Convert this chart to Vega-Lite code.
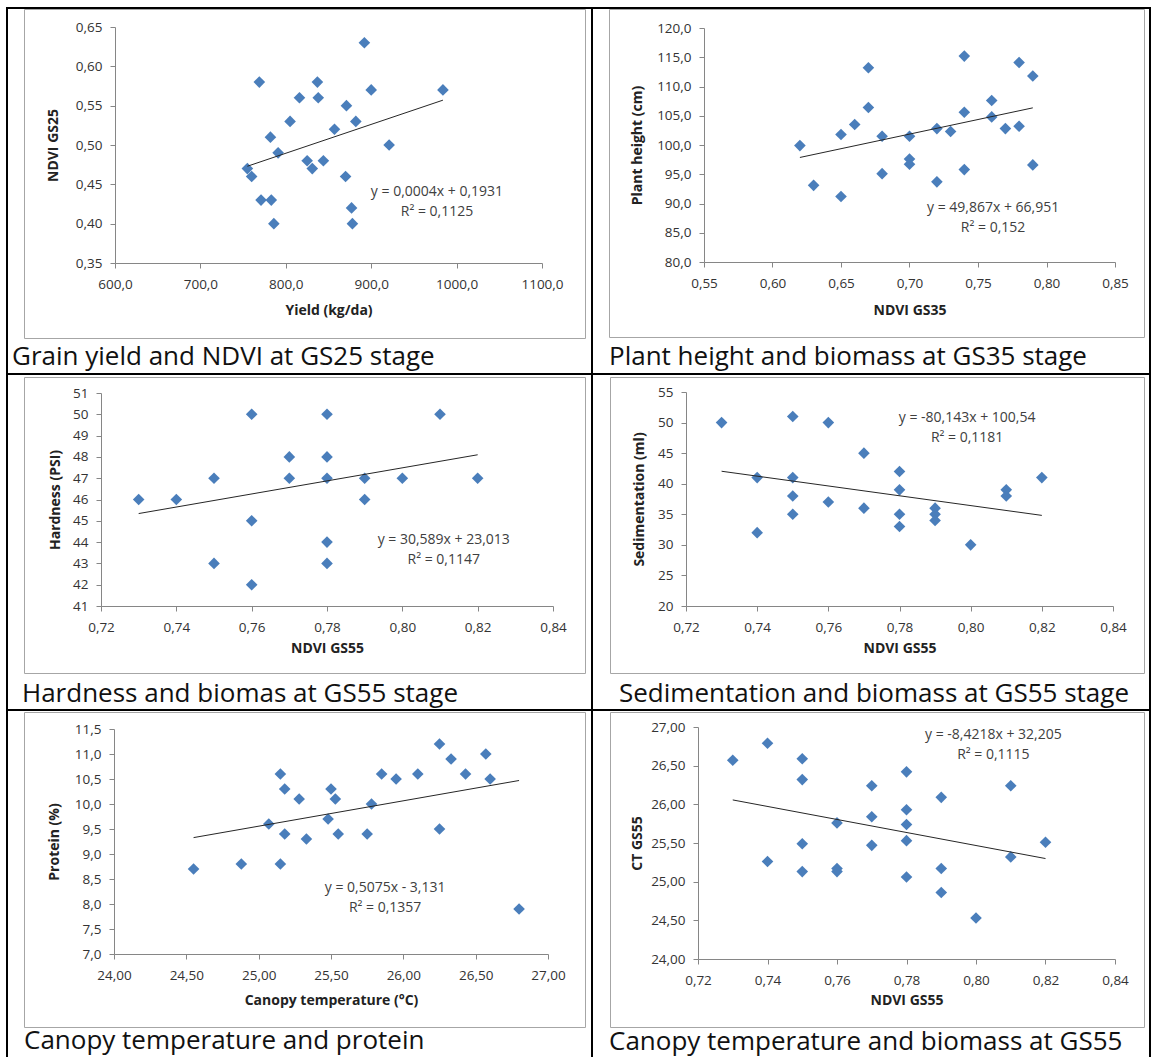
{
"$schema":"https://vega.github.io/schema/vega-lite/v6.json",
"padding":{"left":6,"top":7,"right":0,"bottom":0},
"background":"white",
"datasets":{
"frame":[{"element":"chart area border"}],
"p1":[{"yield":755,"ndvi_gs25":0.47},{"yield":760,"ndvi_gs25":0.46},{"yield":771,"ndvi_gs25":0.43},{"yield":783,"ndvi_gs25":0.43},{"yield":786,"ndvi_gs25":0.40},{"yield":769,"ndvi_gs25":0.58},{"yield":782,"ndvi_gs25":0.51},{"yield":791,"ndvi_gs25":0.49},{"yield":805,"ndvi_gs25":0.53},{"yield":816,"ndvi_gs25":0.56},{"yield":825,"ndvi_gs25":0.48},{"yield":831,"ndvi_gs25":0.47},{"yield":837,"ndvi_gs25":0.58},{"yield":838,"ndvi_gs25":0.56},{"yield":844,"ndvi_gs25":0.48},{"yield":857,"ndvi_gs25":0.52},{"yield":870,"ndvi_gs25":0.46},{"yield":871,"ndvi_gs25":0.55},{"yield":877,"ndvi_gs25":0.42},{"yield":878,"ndvi_gs25":0.40},{"yield":882,"ndvi_gs25":0.53},{"yield":892,"ndvi_gs25":0.63},{"yield":900,"ndvi_gs25":0.57},{"yield":921,"ndvi_gs25":0.50},{"yield":984,"ndvi_gs25":0.57}],
"t1":[{"yield":755,"ndvi_gs25":0.473},{"yield":984,"ndvi_gs25":0.557}],
"e1":[{"equation":"y = 0,0004x + 0,1931","r2":"R² = 0,1125"}],
"p2":[{"ndvi_gs35":0.62,"plant_height":99.9},{"ndvi_gs35":0.63,"plant_height":93.1},{"ndvi_gs35":0.65,"plant_height":101.8},{"ndvi_gs35":0.65,"plant_height":91.2},{"ndvi_gs35":0.66,"plant_height":103.5},{"ndvi_gs35":0.67,"plant_height":113.2},{"ndvi_gs35":0.67,"plant_height":106.4},{"ndvi_gs35":0.68,"plant_height":101.5},{"ndvi_gs35":0.68,"plant_height":95.1},{"ndvi_gs35":0.70,"plant_height":101.5},{"ndvi_gs35":0.70,"plant_height":97.6},{"ndvi_gs35":0.70,"plant_height":96.7},{"ndvi_gs35":0.72,"plant_height":102.8},{"ndvi_gs35":0.72,"plant_height":93.7},{"ndvi_gs35":0.73,"plant_height":102.3},{"ndvi_gs35":0.74,"plant_height":115.2},{"ndvi_gs35":0.74,"plant_height":105.6},{"ndvi_gs35":0.74,"plant_height":95.8},{"ndvi_gs35":0.76,"plant_height":107.6},{"ndvi_gs35":0.76,"plant_height":104.8},{"ndvi_gs35":0.77,"plant_height":102.8},{"ndvi_gs35":0.78,"plant_height":114.1},{"ndvi_gs35":0.78,"plant_height":103.2},{"ndvi_gs35":0.79,"plant_height":111.8},{"ndvi_gs35":0.79,"plant_height":96.6}],
"t2":[{"ndvi_gs35":0.62,"plant_height":97.87},{"ndvi_gs35":0.79,"plant_height":106.35}],
"e2":[{"equation":"y = 49,867x + 66,951","r2":"R² = 0,152"}],
"p3":[{"ndvi_gs55":0.73,"hardness":46},{"ndvi_gs55":0.74,"hardness":46},{"ndvi_gs55":0.75,"hardness":47},{"ndvi_gs55":0.75,"hardness":43},{"ndvi_gs55":0.76,"hardness":50},{"ndvi_gs55":0.76,"hardness":45},{"ndvi_gs55":0.76,"hardness":42},{"ndvi_gs55":0.77,"hardness":48},{"ndvi_gs55":0.77,"hardness":47},{"ndvi_gs55":0.78,"hardness":50},{"ndvi_gs55":0.78,"hardness":48},{"ndvi_gs55":0.78,"hardness":47},{"ndvi_gs55":0.78,"hardness":44},{"ndvi_gs55":0.78,"hardness":43},{"ndvi_gs55":0.79,"hardness":47},{"ndvi_gs55":0.79,"hardness":46},{"ndvi_gs55":0.80,"hardness":47},{"ndvi_gs55":0.81,"hardness":50},{"ndvi_gs55":0.82,"hardness":47}],
"t3":[{"ndvi_gs55":0.73,"hardness":45.34},{"ndvi_gs55":0.82,"hardness":48.10}],
"e3":[{"equation":"y = 30,589x + 23,013","r2":"R² = 0,1147"}],
"p4":[{"ndvi_gs55":0.73,"sedimentation":50},{"ndvi_gs55":0.74,"sedimentation":41},{"ndvi_gs55":0.74,"sedimentation":32},{"ndvi_gs55":0.75,"sedimentation":51},{"ndvi_gs55":0.75,"sedimentation":41},{"ndvi_gs55":0.75,"sedimentation":38},{"ndvi_gs55":0.75,"sedimentation":35},{"ndvi_gs55":0.76,"sedimentation":50},{"ndvi_gs55":0.76,"sedimentation":37},{"ndvi_gs55":0.77,"sedimentation":45},{"ndvi_gs55":0.77,"sedimentation":36},{"ndvi_gs55":0.78,"sedimentation":42},{"ndvi_gs55":0.78,"sedimentation":39},{"ndvi_gs55":0.78,"sedimentation":35},{"ndvi_gs55":0.78,"sedimentation":33},{"ndvi_gs55":0.79,"sedimentation":36},{"ndvi_gs55":0.79,"sedimentation":35},{"ndvi_gs55":0.79,"sedimentation":34},{"ndvi_gs55":0.80,"sedimentation":30},{"ndvi_gs55":0.81,"sedimentation":39},{"ndvi_gs55":0.81,"sedimentation":38},{"ndvi_gs55":0.82,"sedimentation":41}],
"t4":[{"ndvi_gs55":0.73,"sedimentation":42.04},{"ndvi_gs55":0.82,"sedimentation":34.82}],
"e4":[{"equation":"y = -80,143x + 100,54","r2":"R² = 0,1181"}],
"p5":[{"canopy_temperature":24.55,"protein":8.7},{"canopy_temperature":24.88,"protein":8.8},{"canopy_temperature":25.07,"protein":9.6},{"canopy_temperature":25.15,"protein":10.6},{"canopy_temperature":25.15,"protein":8.8},{"canopy_temperature":25.18,"protein":10.3},{"canopy_temperature":25.18,"protein":9.4},{"canopy_temperature":25.28,"protein":10.1},{"canopy_temperature":25.33,"protein":9.3},{"canopy_temperature":25.48,"protein":9.7},{"canopy_temperature":25.50,"protein":10.3},{"canopy_temperature":25.53,"protein":10.1},{"canopy_temperature":25.55,"protein":9.4},{"canopy_temperature":25.75,"protein":9.4},{"canopy_temperature":25.78,"protein":10.0},{"canopy_temperature":25.85,"protein":10.6},{"canopy_temperature":25.95,"protein":10.5},{"canopy_temperature":26.10,"protein":10.6},{"canopy_temperature":26.25,"protein":11.2},{"canopy_temperature":26.25,"protein":9.5},{"canopy_temperature":26.33,"protein":10.9},{"canopy_temperature":26.43,"protein":10.6},{"canopy_temperature":26.57,"protein":11.0},{"canopy_temperature":26.60,"protein":10.5},{"canopy_temperature":26.80,"protein":7.9}],
"t5":[{"canopy_temperature":24.55,"protein":9.328},{"canopy_temperature":26.80,"protein":10.470}],
"e5":[{"equation":"y = 0,5075x - 3,131","r2":"R² = 0,1357"}],
"p6":[{"ndvi_gs55":0.73,"ct_gs55":26.57},{"ndvi_gs55":0.74,"ct_gs55":26.79},{"ndvi_gs55":0.74,"ct_gs55":25.26},{"ndvi_gs55":0.75,"ct_gs55":26.59},{"ndvi_gs55":0.75,"ct_gs55":26.32},{"ndvi_gs55":0.75,"ct_gs55":25.49},{"ndvi_gs55":0.75,"ct_gs55":25.13},{"ndvi_gs55":0.76,"ct_gs55":25.76},{"ndvi_gs55":0.76,"ct_gs55":25.17},{"ndvi_gs55":0.76,"ct_gs55":25.13},{"ndvi_gs55":0.77,"ct_gs55":26.24},{"ndvi_gs55":0.77,"ct_gs55":25.84},{"ndvi_gs55":0.77,"ct_gs55":25.47},{"ndvi_gs55":0.78,"ct_gs55":26.42},{"ndvi_gs55":0.78,"ct_gs55":25.93},{"ndvi_gs55":0.78,"ct_gs55":25.74},{"ndvi_gs55":0.78,"ct_gs55":25.53},{"ndvi_gs55":0.78,"ct_gs55":25.06},{"ndvi_gs55":0.79,"ct_gs55":26.09},{"ndvi_gs55":0.79,"ct_gs55":25.17},{"ndvi_gs55":0.79,"ct_gs55":24.86},{"ndvi_gs55":0.80,"ct_gs55":24.53},{"ndvi_gs55":0.81,"ct_gs55":26.24},{"ndvi_gs55":0.81,"ct_gs55":25.32},{"ndvi_gs55":0.82,"ct_gs55":25.51}],
"t6":[{"ndvi_gs55":0.73,"ct_gs55":26.057},{"ndvi_gs55":0.82,"ct_gs55":25.299}],
"e6":[{"equation":"y = -8,4218x + 32,205","r2":"R² = 0,1115"}]
},
"columns":2,
"spacing":0,
"bounds":"flush",
"align":"each",
"concat":[
{"width":585,"height":366,
"title":{"text":"Grain yield and NDVI at GS25 stage","orient":"bottom","anchor":"start","frame":"group","offset":-17,"dx":5,"baseline":"middle"},
"layer":[
{"layer":[
{"data":{"name":"p1"},"mark":{"type":"point","shape":"diamond","filled":true,"size":135,"color":"#4a7ebb","opacity":1},
"encoding":{"x":{"field":"yield","type":"quantitative","scale":{"domain":[600,1100],"range":[108,535],"nice":false,"zero":false},"axis":{"orient":"bottom","offset":-111,"values":[600,700,800,900,1000,1100],"tickCount":30,"format":".1f","labelOverlap":false,"title":"Yield (kg/da)","titleY":47,"titleBaseline":"middle"}},
"y":{"field":"ndvi_gs25","type":"quantitative","scale":{"domain":[0.35,0.65],"range":[255,19],"nice":false,"zero":false},"axis":{"orient":"left","offset":-108,"values":[0.35,0.4,0.45,0.5,0.55,0.6,0.65],"tickCount":30,"format":".2f","labelOverlap":false,"title":"NDVI GS25","titleX":-62,"titleBaseline":"middle"}}}},
{"data":{"name":"t1"},"mark":{"type":"line","color":"#262626","strokeWidth":1},"encoding":{"x":{"field":"yield","type":"quantitative"},"y":{"field":"ndvi_gs25","type":"quantitative"}}},
{"data":{"name":"e1"},"mark":{"type":"text","fontSize":14,"color":"#404040","align":"center","baseline":"middle"},"encoding":{"x":{"datum":977,"type":"quantitative"},"y":{"datum":0.44,"type":"quantitative"},"text":{"field":"equation"}}},
{"data":{"name":"e1"},"mark":{"type":"text","fontSize":14,"color":"#404040","align":"center","baseline":"middle"},"encoding":{"x":{"datum":977,"type":"quantitative"},"y":{"datum":0.415,"type":"quantitative"},"text":{"field":"r2"}}}
]},
{"data":{"name":"frame"},"mark":{"type":"point","opacity":0},"encoding":{
"x":{"datum":0,"type":"quantitative","scale":{"domain":[0,1],"range":[17,578],"nice":false},"axis":{"orient":"bottom","offset":-36,"labels":false,"ticks":false,"title":null,"domainColor":"#a6a6a6"}},
"y":{"datum":0,"type":"quantitative","scale":{"domain":[0,1],"range":[330,1],"nice":false},"axis":{"orient":"left","offset":-17,"labels":false,"ticks":false,"title":null,"domainColor":"#a6a6a6"}}}},
{"data":{"name":"frame"},"mark":{"type":"point","opacity":0},"encoding":{
"x":{"datum":0,"type":"quantitative","scale":{"domain":[0,1],"range":[17,578],"nice":false},"axis":{"orient":"top","offset":-1,"labels":false,"ticks":false,"title":null,"domainColor":"#a6a6a6"}},
"y":{"datum":0,"type":"quantitative","scale":{"domain":[0,1],"range":[330,1],"nice":false},"axis":{"orient":"right","offset":-7,"labels":false,"ticks":false,"title":null,"domainColor":"#a6a6a6"}}}}
],
"resolve":{"scale":{"x":"independent","y":"independent"}}},
{"width":558,"height":366,
"title":{"text":"Plant height and biomass at GS35 stage","orient":"bottom","anchor":"start","frame":"group","offset":-17,"dx":17,"baseline":"middle"},
"layer":[
{"layer":[
{"data":{"name":"p2"},"mark":{"type":"point","shape":"diamond","filled":true,"size":135,"color":"#4a7ebb","opacity":1},
"encoding":{"x":{"field":"ndvi_gs35","type":"quantitative","scale":{"domain":[0.55,0.85],"range":[112,523],"nice":false,"zero":false},"axis":{"orient":"bottom","offset":-112,"values":[0.55,0.6,0.65,0.7,0.75,0.8,0.85],"tickCount":30,"format":".2f","labelOverlap":false,"title":"NDVI GS35","titleY":48,"titleBaseline":"middle"}},
"y":{"field":"plant_height","type":"quantitative","scale":{"domain":[80,120],"range":[254,20],"nice":false,"zero":false},"axis":{"orient":"left","offset":-112,"values":[80,85,90,95,100,105,110,115,120],"tickCount":30,"format":".1f","labelOverlap":false,"title":"Plant height (cm)","titleX":-67,"titleBaseline":"middle"}}}},
{"data":{"name":"t2"},"mark":{"type":"line","color":"#262626","strokeWidth":1},"encoding":{"x":{"field":"ndvi_gs35","type":"quantitative"},"y":{"field":"plant_height","type":"quantitative"}}},
{"data":{"name":"e2"},"mark":{"type":"text","fontSize":14,"color":"#404040","align":"center","baseline":"middle"},"encoding":{"x":{"datum":0.761,"type":"quantitative"},"y":{"datum":89.2,"type":"quantitative"},"text":{"field":"equation"}}},
{"data":{"name":"e2"},"mark":{"type":"text","fontSize":14,"color":"#404040","align":"center","baseline":"middle"},"encoding":{"x":{"datum":0.761,"type":"quantitative"},"y":{"datum":85.8,"type":"quantitative"},"text":{"field":"r2"}}}
]},
{"data":{"name":"frame"},"mark":{"type":"point","opacity":0},"encoding":{
"x":{"datum":0,"type":"quantitative","scale":{"domain":[0,1],"range":[17,552],"nice":false},"axis":{"orient":"bottom","offset":-37,"labels":false,"ticks":false,"title":null,"domainColor":"#a6a6a6"}},
"y":{"datum":0,"type":"quantitative","scale":{"domain":[0,1],"range":[329,1],"nice":false},"axis":{"orient":"left","offset":-17,"labels":false,"ticks":false,"title":null,"domainColor":"#a6a6a6"}}}},
{"data":{"name":"frame"},"mark":{"type":"point","opacity":0},"encoding":{
"x":{"datum":0,"type":"quantitative","scale":{"domain":[0,1],"range":[17,552],"nice":false},"axis":{"orient":"top","offset":-1,"labels":false,"ticks":false,"title":null,"domainColor":"#a6a6a6"}},
"y":{"datum":0,"type":"quantitative","scale":{"domain":[0,1],"range":[329,1],"nice":false},"axis":{"orient":"right","offset":-6,"labels":false,"ticks":false,"title":null,"domainColor":"#a6a6a6"}}}}
],
"resolve":{"scale":{"x":"independent","y":"independent"}}},
{"width":585,"height":336,
"title":{"text":"Hardness and biomas at GS55 stage","orient":"bottom","anchor":"start","frame":"group","offset":-16,"dx":15,"baseline":"middle"},
"layer":[
{"layer":[
{"data":{"name":"p3"},"mark":{"type":"point","shape":"diamond","filled":true,"size":135,"color":"#4a7ebb","opacity":1},
"encoding":{"x":{"field":"ndvi_gs55","type":"quantitative","scale":{"domain":[0.72,0.84],"range":[94,546],"nice":false,"zero":false},"axis":{"orient":"bottom","offset":-104,"values":[0.72,0.74,0.76,0.78,0.8,0.82,0.84],"tickCount":30,"format":".2f","labelOverlap":false,"title":"NDVI GS55","titleY":42,"titleBaseline":"middle"}},
"y":{"field":"hardness","type":"quantitative","scale":{"domain":[41,51],"range":[232,19],"nice":false,"zero":false},"axis":{"orient":"left","offset":-94,"values":[41,42,43,44,45,46,47,48,49,50,51],"tickCount":30,"format":"d","labelOverlap":false,"title":"Hardness (PSI)","titleX":-46,"titleBaseline":"middle"}}}},
{"data":{"name":"t3"},"mark":{"type":"line","color":"#262626","strokeWidth":1},"encoding":{"x":{"field":"ndvi_gs55","type":"quantitative"},"y":{"field":"hardness","type":"quantitative"}}},
{"data":{"name":"e3"},"mark":{"type":"text","fontSize":14,"color":"#404040","align":"center","baseline":"middle"},"encoding":{"x":{"datum":0.811,"type":"quantitative"},"y":{"datum":44.09,"type":"quantitative"},"text":{"field":"equation"}}},
{"data":{"name":"e3"},"mark":{"type":"text","fontSize":14,"color":"#404040","align":"center","baseline":"middle"},"encoding":{"x":{"datum":0.811,"type":"quantitative"},"y":{"datum":43.15,"type":"quantitative"},"text":{"field":"r2"}}}
]},
{"data":{"name":"frame"},"mark":{"type":"point","opacity":0},"encoding":{
"x":{"datum":0,"type":"quantitative","scale":{"domain":[0,1],"range":[17,578],"nice":false},"axis":{"orient":"bottom","offset":-37,"labels":false,"ticks":false,"title":null,"domainColor":"#a6a6a6"}},
"y":{"datum":0,"type":"quantitative","scale":{"domain":[0,1],"range":[299,3],"nice":false},"axis":{"orient":"left","offset":-17,"labels":false,"ticks":false,"title":null,"domainColor":"#a6a6a6"}}}},
{"data":{"name":"frame"},"mark":{"type":"point","opacity":0},"encoding":{
"x":{"datum":0,"type":"quantitative","scale":{"domain":[0,1],"range":[17,578],"nice":false},"axis":{"orient":"top","offset":-3,"labels":false,"ticks":false,"title":null,"domainColor":"#a6a6a6"}},
"y":{"datum":0,"type":"quantitative","scale":{"domain":[0,1],"range":[299,3],"nice":false},"axis":{"orient":"right","offset":-7,"labels":false,"ticks":false,"title":null,"domainColor":"#a6a6a6"}}}}
],
"resolve":{"scale":{"x":"independent","y":"independent"}}},
{"width":558,"height":336,
"title":{"text":"Sedimentation and biomass at GS55 stage","orient":"bottom","anchor":"middle","frame":"group","offset":-16,"dx":3,"baseline":"middle"},
"layer":[
{"layer":[
{"data":{"name":"p4"},"mark":{"type":"point","shape":"diamond","filled":true,"size":135,"color":"#4a7ebb","opacity":1},
"encoding":{"x":{"field":"ndvi_gs55","type":"quantitative","scale":{"domain":[0.72,0.84],"range":[94,521],"nice":false,"zero":false},"axis":{"orient":"bottom","offset":-104,"values":[0.72,0.74,0.76,0.78,0.8,0.82,0.84],"tickCount":30,"format":".2f","labelOverlap":false,"title":"NDVI GS55","titleY":42,"titleBaseline":"middle"}},
"y":{"field":"sedimentation","type":"quantitative","scale":{"domain":[20,55],"range":[232,18],"nice":false,"zero":false},"axis":{"orient":"left","offset":-94,"values":[20,25,30,35,40,45,50,55],"tickCount":30,"format":"d","labelOverlap":false,"title":"Sedimentation (ml)","titleX":-47,"titleBaseline":"middle"}}}},
{"data":{"name":"t4"},"mark":{"type":"line","color":"#262626","strokeWidth":1},"encoding":{"x":{"field":"ndvi_gs55","type":"quantitative"},"y":{"field":"sedimentation","type":"quantitative"}}},
{"data":{"name":"e4"},"mark":{"type":"text","fontSize":14,"color":"#404040","align":"center","baseline":"middle"},"encoding":{"x":{"datum":0.799,"type":"quantitative"},"y":{"datum":50.75,"type":"quantitative"},"text":{"field":"equation"}}},
{"data":{"name":"e4"},"mark":{"type":"text","fontSize":14,"color":"#404040","align":"center","baseline":"middle"},"encoding":{"x":{"datum":0.799,"type":"quantitative"},"y":{"datum":47.48,"type":"quantitative"},"text":{"field":"r2"}}}
]},
{"data":{"name":"frame"},"mark":{"type":"point","opacity":0},"encoding":{
"x":{"datum":0,"type":"quantitative","scale":{"domain":[0,1],"range":[18,552],"nice":false},"axis":{"orient":"bottom","offset":-37,"labels":false,"ticks":false,"title":null,"domainColor":"#a6a6a6"}},
"y":{"datum":0,"type":"quantitative","scale":{"domain":[0,1],"range":[299,3],"nice":false},"axis":{"orient":"left","offset":-18,"labels":false,"ticks":false,"title":null,"domainColor":"#a6a6a6"}}}},
{"data":{"name":"frame"},"mark":{"type":"point","opacity":0},"encoding":{
"x":{"datum":0,"type":"quantitative","scale":{"domain":[0,1],"range":[18,552],"nice":false},"axis":{"orient":"top","offset":-3,"labels":false,"ticks":false,"title":null,"domainColor":"#a6a6a6"}},
"y":{"datum":0,"type":"quantitative","scale":{"domain":[0,1],"range":[299,3],"nice":false},"axis":{"orient":"right","offset":-6,"labels":false,"ticks":false,"title":null,"domainColor":"#a6a6a6"}}}}
],
"resolve":{"scale":{"x":"independent","y":"independent"}}},
{"width":585,"height":360,
"title":{"text":"Canopy temperature and protein","orient":"bottom","anchor":"start","frame":"group","offset":-29,"dx":17,"baseline":"middle"},
"layer":[
{"layer":[
{"data":{"name":"p5"},"mark":{"type":"point","shape":"diamond","filled":true,"size":135,"color":"#4a7ebb","opacity":1},
"encoding":{"x":{"field":"canopy_temperature","type":"quantitative","scale":{"domain":[24,27],"range":[107,541],"nice":false,"zero":false},"axis":{"orient":"bottom","offset":-116,"values":[24,24.5,25,25.5,26,26.5,27],"tickCount":30,"format":".2f","labelOverlap":false,"title":"Canopy temperature  (°C)","titleY":46,"titleBaseline":"middle"}},
"y":{"field":"protein","type":"quantitative","scale":{"domain":[7,11.5],"range":[244,19],"nice":false,"zero":false},"axis":{"orient":"left","offset":-107,"values":[7,7.5,8,8.5,9,9.5,10,10.5,11,11.5],"tickCount":30,"format":".1f","labelOverlap":false,"title":"Protein (%)","titleX":-60,"titleBaseline":"middle"}}}},
{"data":{"name":"t5"},"mark":{"type":"line","color":"#262626","strokeWidth":1},"encoding":{"x":{"field":"canopy_temperature","type":"quantitative"},"y":{"field":"protein","type":"quantitative"}}},
{"data":{"name":"e5"},"mark":{"type":"text","fontSize":14,"color":"#404040","align":"center","baseline":"middle"},"encoding":{"x":{"datum":25.874,"type":"quantitative"},"y":{"datum":8.314,"type":"quantitative"},"text":{"field":"equation"}}},
{"data":{"name":"e5"},"mark":{"type":"text","fontSize":14,"color":"#404040","align":"center","baseline":"middle"},"encoding":{"x":{"datum":25.874,"type":"quantitative"},"y":{"datum":7.914,"type":"quantitative"},"text":{"field":"r2"}}}
]},
{"data":{"name":"frame"},"mark":{"type":"point","opacity":0},"encoding":{
"x":{"datum":0,"type":"quantitative","scale":{"domain":[0,1],"range":[17,578],"nice":false},"axis":{"orient":"bottom","offset":-43,"labels":false,"ticks":false,"title":null,"domainColor":"#a6a6a6"}},
"y":{"datum":0,"type":"quantitative","scale":{"domain":[0,1],"range":[317,2],"nice":false},"axis":{"orient":"left","offset":-17,"labels":false,"ticks":false,"title":null,"domainColor":"#a6a6a6"}}}},
{"data":{"name":"frame"},"mark":{"type":"point","opacity":0},"encoding":{
"x":{"datum":0,"type":"quantitative","scale":{"domain":[0,1],"range":[17,578],"nice":false},"axis":{"orient":"top","offset":-2,"labels":false,"ticks":false,"title":null,"domainColor":"#a6a6a6"}},
"y":{"datum":0,"type":"quantitative","scale":{"domain":[0,1],"range":[317,2],"nice":false},"axis":{"orient":"right","offset":-7,"labels":false,"ticks":false,"title":null,"domainColor":"#a6a6a6"}}}}
],
"resolve":{"scale":{"x":"independent","y":"independent"}}},
{"width":558,"height":360,
"title":{"text":"Canopy temperature and biomass at GS55","orient":"bottom","anchor":"start","frame":"group","offset":-28,"dx":17,"baseline":"middle"},
"layer":[
{"layer":[
{"data":{"name":"p6"},"mark":{"type":"point","shape":"diamond","filled":true,"size":135,"color":"#4a7ebb","opacity":1},
"encoding":{"x":{"field":"ndvi_gs55","type":"quantitative","scale":{"domain":[0.72,0.84],"range":[106,523],"nice":false,"zero":false},"axis":{"orient":"bottom","offset":-111,"values":[0.72,0.74,0.76,0.78,0.8,0.82,0.84],"tickCount":30,"format":".2f","labelOverlap":false,"title":"NDVI GS55","titleY":41,"titleBaseline":"middle"}},
"y":{"field":"ct_gs55","type":"quantitative","scale":{"domain":[24,27],"range":[249,17],"nice":false,"zero":false},"axis":{"orient":"left","offset":-106,"values":[24,24.5,25,25.5,26,26.5,27],"tickCount":30,"format":".2f","labelOverlap":false,"title":"CT GS55","titleX":-61,"titleBaseline":"middle"}}}},
{"data":{"name":"t6"},"mark":{"type":"line","color":"#262626","strokeWidth":1},"encoding":{"x":{"field":"ndvi_gs55","type":"quantitative"},"y":{"field":"ct_gs55","type":"quantitative"}}},
{"data":{"name":"e6"},"mark":{"type":"text","fontSize":14,"color":"#404040","align":"center","baseline":"middle"},"encoding":{"x":{"datum":0.805,"type":"quantitative"},"y":{"datum":26.893,"type":"quantitative"},"text":{"field":"equation"}}},
{"data":{"name":"e6"},"mark":{"type":"text","fontSize":14,"color":"#404040","align":"center","baseline":"middle"},"encoding":{"x":{"datum":0.805,"type":"quantitative"},"y":{"datum":26.643,"type":"quantitative"},"text":{"field":"r2"}}}
]},
{"data":{"name":"frame"},"mark":{"type":"point","opacity":0},"encoding":{
"x":{"datum":0,"type":"quantitative","scale":{"domain":[0,1],"range":[18,552],"nice":false},"axis":{"orient":"bottom","offset":-43,"labels":false,"ticks":false,"title":null,"domainColor":"#a6a6a6"}},
"y":{"datum":0,"type":"quantitative","scale":{"domain":[0,1],"range":[317,2],"nice":false},"axis":{"orient":"left","offset":-18,"labels":false,"ticks":false,"title":null,"domainColor":"#a6a6a6"}}}},
{"data":{"name":"frame"},"mark":{"type":"point","opacity":0},"encoding":{
"x":{"datum":0,"type":"quantitative","scale":{"domain":[0,1],"range":[18,552],"nice":false},"axis":{"orient":"top","offset":-2,"labels":false,"ticks":false,"title":null,"domainColor":"#a6a6a6"}},
"y":{"datum":0,"type":"quantitative","scale":{"domain":[0,1],"range":[317,2],"nice":false},"axis":{"orient":"right","offset":-6,"labels":false,"ticks":false,"title":null,"domainColor":"#a6a6a6"}}}}
],
"resolve":{"scale":{"x":"independent","y":"independent"}}}
],
"config":{
"locale":{"number":{"decimal":",","thousands":".","grouping":[3],"currency":["","€"]}},
"font":"Open Sans",
"view":{"stroke":"#000000","strokeWidth":2},
"concat":{"spacing":0},
"axis":{"grid":false,"domainColor":"#868686","tickColor":"#868686","tickSize":5,"domainWidth":1,"tickWidth":1,"labelFont":"Open Sans","labelFontSize":13.5,"labelColor":"#333333","labelPadding":8,"labelFlush":false,"labelOverlap":false,"titleFont":"Open Sans","titleFontSize":14,"titleFontWeight":"bold","titleColor":"#222222"},
"axisLeft":{"labelPadding":8},
"axisBottom":{"labelPadding":9},
"title":{"font":"Open Sans","fontSize":26,"fontWeight":"normal","color":"#111111"},
"text":{"font":"Open Sans"}
}
}
